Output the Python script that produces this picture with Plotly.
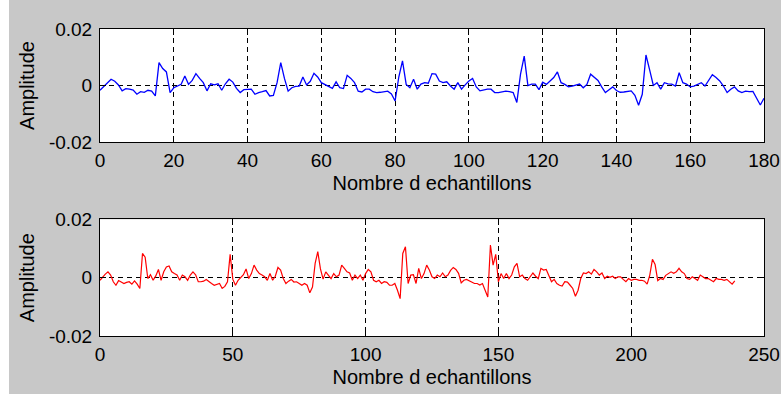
import plotly.graph_objects as go

# ---------------- data ----------------
top_values = [
    -0.0017, -0.0005, 0.0010, 0.0022, 0.0015, 0.0002, -0.0019, -0.0011, -0.0013, -0.0016,
    -0.0031, -0.0022, -0.0024, -0.0017, -0.0020, -0.0037, 0.0081, 0.0060, 0.0048, -0.0025,
    -0.0008, -0.0002, 0.0004, 0.0034, 0.0004, 0.0018, 0.0042, 0.0025, 0.0010, -0.0019,
    0.0006, 0.0002, 0.0006, -0.0017, 0.0006, 0.0022, 0.0012, -0.0010, -0.0025, -0.0015,
    -0.0014, -0.0013, -0.0031, -0.0025, -0.0022, -0.0018, -0.0037, -0.0035, 0.0010, 0.0081,
    0.0025, -0.0020, -0.0008, -0.0003, -0.0002, 0.0030, 0.0002, 0.0015, 0.0043, 0.0030,
    0.0010, 0.0004, -0.0002, -0.0010, 0.0013, -0.0008, -0.0011, 0.0036, 0.0025, 0.0010,
    -0.0020, -0.0023, -0.0013, -0.0013, -0.0022, -0.0025, -0.0024, -0.0022, -0.0020, -0.0030,
    -0.0055, 0.0030, 0.0087, 0.0004, -0.0008, 0.0022, -0.0013, 0.0005, 0.0010, 0.0008,
    0.0042, 0.0040, 0.0016, 0.0010, 0.0013, -0.0002, -0.0013, 0.0010, -0.0013, 0.0002,
    0.0016, 0.0025, -0.0005, -0.0019, -0.0016, -0.0013, -0.0013, -0.0025, -0.0025, -0.0023,
    -0.0020, -0.0022, -0.0025, -0.0060, 0.0040, 0.0104, 0.0000, 0.0005, 0.0005, -0.0015,
    0.0012, 0.0004, 0.0016, 0.0028, 0.0048, 0.0010, 0.0004, -0.0005, -0.0002, 0.0001,
    0.0005, -0.0008, 0.0004, 0.0040, 0.0030, 0.0018, -0.0005, -0.0025, -0.0015, -0.0005,
    -0.0018, -0.0024, -0.0023, -0.0020, -0.0019, -0.0035, -0.0070, -0.0031, 0.0108, 0.0055,
    0.0000, 0.0010, -0.0013, 0.0010, 0.0006, 0.0005, -0.0002, 0.0045, 0.0010, 0.0005,
    -0.0005, -0.0002, 0.0004, 0.0010, -0.0002, 0.0016, 0.0038, 0.0028, 0.0016, -0.0002,
    -0.0025, -0.0013, -0.0005, -0.0019, -0.0025, -0.0020, -0.0022, -0.0021, -0.0043, -0.0069,
    -0.0045,
]
top_samples = list(range(len(top_values)))

bottom_values = [
    -0.0009, 0.0003, 0.0012, 0.0020, 0.0009, -0.0014, -0.0026, -0.0010, -0.0014, -0.0020,
    -0.0016, -0.0014, -0.0022, -0.0011, -0.0022, -0.0037, 0.0083, 0.0070, -0.0003, 0.0010,
    -0.0009, 0.0006, 0.0028, -0.0009, 0.0020, 0.0037, 0.0040, 0.0020, 0.0014, 0.0009,
    -0.0009, 0.0009, 0.0003, -0.0009, 0.0009, 0.0020, 0.0010, -0.0014, -0.0014, -0.0012,
    -0.0006, -0.0014, -0.0020, -0.0026, -0.0023, -0.0020, -0.0037, -0.0030, -0.0014, 0.0080,
    -0.0005, -0.0026, -0.0009, 0.0000, 0.0010, 0.0030, -0.0003, 0.0014, 0.0043, 0.0026,
    0.0014, 0.0009, 0.0003, -0.0009, 0.0014, -0.0009, 0.0005, 0.0035, 0.0026, -0.0003,
    -0.0020, -0.0012, -0.0006, -0.0015, -0.0014, -0.0020, -0.0026, -0.0020, -0.0026, -0.0052,
    -0.0032, 0.0049, 0.0089, 0.0030, -0.0005, 0.0020, 0.0009, -0.0003, 0.0014, 0.0003,
    0.0009, 0.0043, 0.0032, 0.0020, 0.0016, -0.0009, 0.0009, -0.0003, 0.0009, -0.0009,
    0.0014, 0.0028, 0.0020, -0.0009, -0.0014, -0.0009, -0.0020, -0.0014, -0.0016, -0.0026,
    -0.0026, -0.0020, -0.0043, -0.0072, 0.0083, 0.0106, -0.0020, 0.0009, 0.0010, -0.0020,
    0.0032, -0.0003, 0.0014, 0.0043, 0.0026, 0.0003, -0.0003, 0.0009, 0.0003, 0.0016,
    0.0003, 0.0009, 0.0025, 0.0035, 0.0028, 0.0015, -0.0018, -0.0009, -0.0006, -0.0010,
    -0.0014, -0.0020, -0.0020, -0.0025, -0.0020, -0.0043, -0.0066, 0.0112, 0.0043, 0.0080,
    -0.0014, 0.0014, -0.0003, 0.0014, -0.0003, 0.0009, 0.0037, 0.0049, 0.0003, 0.0009,
    -0.0003, -0.0009, 0.0003, 0.0016, 0.0005, -0.0003, 0.0032, 0.0026, 0.0028, 0.0009,
    -0.0014, -0.0006, -0.0020, -0.0026, -0.0029, -0.0014, -0.0015, -0.0026, -0.0037, -0.0064,
    -0.0043, -0.0003, 0.0016, 0.0014, 0.0020, 0.0012, 0.0028, 0.0020, 0.0009, 0.0016,
    -0.0003, 0.0005, 0.0001, 0.0005, -0.0003, 0.0003, 0.0003, -0.0006, -0.0014, -0.0003,
    -0.0009, -0.0006, -0.0006, -0.0009, -0.0009, -0.0012, -0.0022, 0.0009, 0.0063, 0.0045,
    -0.0010, -0.0003, -0.0006, 0.0008, 0.0014, 0.0020, 0.0015, 0.0020, 0.0032, 0.0020,
    0.0014, -0.0003, -0.0006, 0.0003, -0.0003, -0.0009, 0.0009, 0.0003, -0.0003, -0.0003,
    -0.0009, -0.0014, -0.0003, -0.0006, -0.0006, -0.0009, -0.0006, -0.0014, -0.0022, -0.0011,
]
bottom_samples = list(range(len(bottom_values)))

top_xticks = [0, 20, 40, 60, 80, 100, 120, 140, 160, 180]
bottom_xticks = [0, 50, 100, 150, 200, 250]
y_tickvals = [-0.02, 0, 0.02]
y_ticktext = ["-0.02", "0", "0.02"]
x_title = "Nombre d echantillons"
y_title = "Amplitude"

# ---------------- figure ----------------
W, H = 781, 394
ML, MR, MT, MB = 100, 17, 29, 58
FAMILY = "Liberation Sans, Arial, sans-serif"
TICK_FONT = dict(family=FAMILY, size=19, color="#000000")
TITLE_FONT = dict(family=FAMILY, size=20, color="#000000")

fig = go.Figure()
fig.add_trace(go.Scatter(x=top_samples, y=top_values, mode="lines",
                         line=dict(color="#0000ff", width=1.3),
                         xaxis="x", yaxis="y", showlegend=False, hoverinfo="skip"))
fig.add_trace(go.Scatter(x=bottom_samples, y=bottom_values, mode="lines",
                         line=dict(color="#ff0000", width=1.2),
                         xaxis="x2", yaxis="y2", showlegend=False, hoverinfo="skip"))

common_axis = dict(
    showline=True, linecolor="#000000", linewidth=1, mirror="ticks",
    ticks="inside", ticklen=6, tickwidth=1, tickcolor="#000000",
    showgrid=True, gridcolor="#000000", gridwidth=1, griddash="5px,4px",
    zeroline=False, tickfont=TICK_FONT, automargin=False,
)

xaxis_common = dict(common_axis, ticklabelstandoff=1,
                    title=dict(text=x_title, font=TITLE_FONT, standoff=6))
yaxis_common = dict(common_axis, ticklabelstandoff=3,
                    tickvals=y_tickvals, ticktext=y_ticktext, range=[-0.02, 0.02],
                    title=dict(text=y_title, font=TITLE_FONT, standoff=8))

fig.update_layout(
    width=W, height=H,
    margin=dict(l=ML, r=MR, t=MT, b=MB),
    paper_bgcolor="#c8c8c8", plot_bgcolor="#ffffff",
    font=TICK_FONT,
    xaxis=dict(xaxis_common, domain=[0, 1], range=[0, 180], tickvals=top_xticks,
               anchor="y"),
    yaxis=dict(yaxis_common, domain=[0.632, 1.0], anchor="x"),
    xaxis2=dict(xaxis_common, domain=[0, 1], range=[0, 250], tickvals=bottom_xticks,
                anchor="y2"),
    yaxis2=dict(yaxis_common, domain=[0.0, 0.38], anchor="x2"),
)

# white strip at the far left of the window
pw = W - ML - MR
fig.add_shape(type="rect", xref="paper", yref="paper",
              x0=(0 - ML) / pw, x1=(9 - ML) / pw, y0=-1, y1=2,
              fillcolor="#ffffff", line=dict(width=0), layer="below")

fig.write_html("out.html",
               config={"displayModeBar": False},
               post_script="document.body.style.margin='0';document.body.style.overflow='hidden';")
